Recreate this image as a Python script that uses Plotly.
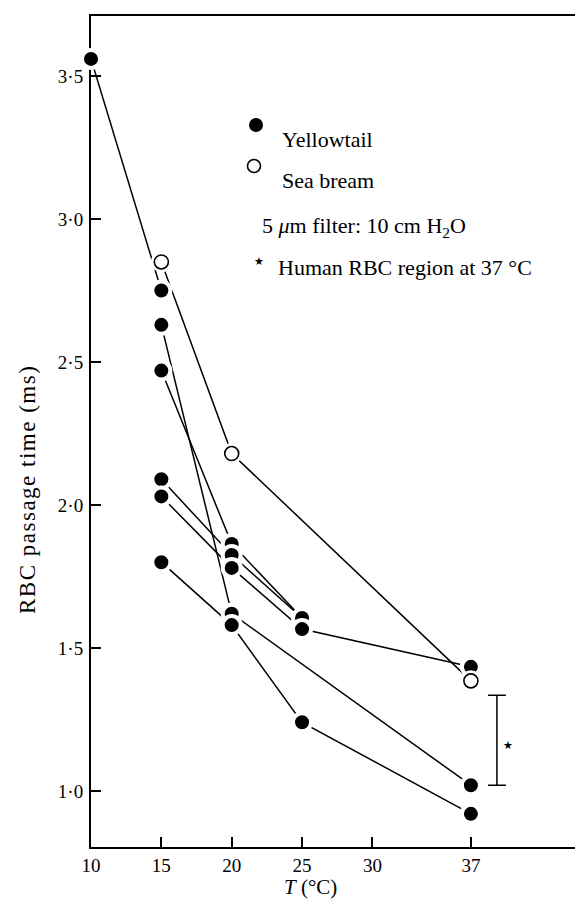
import plotly.graph_objects as go

# ---------------- data ----------------
x_tick_vals = [10, 15, 20, 25, 30, 37]
x_tick_text = ["10", "15", "20", "25", "30", "37"]
y_tick_vals = [1.0, 1.5, 2.0, 2.5, 3.0, 3.5]
y_tick_text = ["1·0", "1·5", "2·0", "2·5", "3·0", "3·5"]

# Yellowtail individuals (temperature, passage time)
yt_a_T = [10, 15]
yt_a_v = [3.56, 2.75]
yt_b_T = [15, 20, 37]
yt_b_v = [2.63, 1.62, 1.02]
yt_c_T = [15, 20, 25, 37]
yt_c_v = [1.80, 1.58, 1.24, 0.92]
yt_d_T = [15, 20, 25]
yt_d_v = [2.47, 1.864, 1.605]
yt_e_T = [15, 20, 25]
yt_e_v = [2.09, 1.825, 1.605]
yt_f_T = [15, 20, 25, 37]
yt_f_v = [2.03, 1.78, 1.566, 1.434]

# Sea bream
sb_T = [15, 20, 37]
sb_v = [2.85, 2.18, 1.385]

# Human RBC region at 37 °C
human_low = 1.02
human_high = 1.335

yellowtail = [(yt_a_T, yt_a_v), (yt_b_T, yt_b_v), (yt_c_T, yt_c_v),
              (yt_d_T, yt_d_v), (yt_e_T, yt_e_v), (yt_f_T, yt_f_v)]

# ---------------- figure ----------------
SERIF = "Liberation Serif, Times New Roman, serif"
fig = go.Figure()

# lines first
for T, v in yellowtail + [(sb_T, sb_v)]:
    fig.add_trace(go.Scatter(x=T, y=v, mode="lines",
                             line=dict(color="black", width=1.5),
                             hoverinfo="skip", showlegend=False, cliponaxis=False))

# filled markers with white halo (gap where lines meet the dots)
all_T = [t for T, _ in yellowtail for t in T]
all_v = [y for _, v in yellowtail for y in v]
fig.add_trace(go.Scatter(x=all_T, y=all_v, mode="markers",
                         marker=dict(size=18, color="black",
                                     line=dict(color="white", width=4)),
                         showlegend=False, cliponaxis=False))
# open markers: halo + ring
fig.add_trace(go.Scatter(x=sb_T, y=sb_v, mode="markers",
                         marker=dict(size=21, color="white", line=dict(width=0)),
                         showlegend=False, cliponaxis=False))
fig.add_trace(go.Scatter(x=sb_T, y=sb_v, mode="markers",
                         marker=dict(size=14, color="white",
                                     line=dict(color="black", width=1.6)),
                         showlegend=False, cliponaxis=False))

# human RBC region bar
bar_x = 38.85
fig.add_trace(go.Scatter(x=[bar_x], y=[(human_low + human_high) / 2], mode="markers",
                         marker=dict(size=1, color="rgba(0,0,0,0)"),
                         error_y=dict(type="data", symmetric=True,
                                      array=[(human_high - human_low) / 2],
                                      width=9, thickness=1.5, color="black"),
                         showlegend=False, hoverinfo="skip"))

L, R, T_, B = 83, 0, 8, 61
W, H = 583, 900
PW, PH = W - L - R, H - T_ - B


def px(xp):
    return (xp - L) / PW


def py(yp):
    return (H - B - yp) / PH


LEG = dict(size=22, family=SERIF, color="black")
annotations = [
    dict(x=bar_x + 0.8, y=(human_low + human_high) / 2 - 0.02, xref="x", yref="y",
         text="★", showarrow=False, font=dict(size=11, color="black",
                                               family="DejaVu Sans")),
    dict(x=px(272), y=py(117), xref="paper", yref="paper", xanchor="left",
         text="Yellowtail", showarrow=False, font=LEG),
    dict(x=px(272), y=py(158), xref="paper", yref="paper", xanchor="left",
         text="Sea bream", showarrow=False, font=LEG),
    dict(x=px(252), y=py(203), xref="paper", yref="paper", xanchor="left",
         text="5 <i>μ</i>m filter: 10 cm H<sub>2</sub>O", showarrow=False, font=LEG),
    dict(x=px(244), y=py(245), xref="paper", yref="paper", xanchor="left",
         text="★", showarrow=False, font=dict(size=11, family="DejaVu Sans", color="black")),
    dict(x=px(268), y=py(245), xref="paper", yref="paper", xanchor="left",
         text="Human RBC region at 37 °C", showarrow=False, font=LEG),
    # axis titles
    dict(x=px(302), y=py(879), xref="paper", yref="paper", xanchor="center", yanchor="middle",
         text="<i>T</i> (°C)", showarrow=False, font=dict(size=21, family=SERIF, color="black")),
    dict(x=px(19), y=py(482), xref="paper", yref="paper", xanchor="center", yanchor="middle",
         text="<span style='letter-spacing:1.5px;fill:#000000'>RBC passage time (ms)</span>",
         textangle=-90, showarrow=False,
         font=dict(size=23, family=SERIF, color="black")),
]

shapes = [
    dict(type="circle", xref="paper", yref="paper", xsizemode="pixel", ysizemode="pixel",
         xanchor=px(248), yanchor=py(117), x0=-7, x1=7, y0=-7, y1=7,
         fillcolor="black", line=dict(color="black", width=0)),
    dict(type="circle", xref="paper", yref="paper", xsizemode="pixel", ysizemode="pixel",
         xanchor=px(246), yanchor=py(158), x0=-6.5, x1=6.5, y0=-6.5, y1=6.5,
         fillcolor="white", line=dict(color="black", width=1.6)),
]

fig.update_layout(
    width=W, height=H,
    margin=dict(l=L, r=R, t=T_, b=B, pad=0, autoexpand=False),
    paper_bgcolor="white", plot_bgcolor="white",
    showlegend=False,
    annotations=annotations, shapes=shapes,
    font=dict(family=SERIF, color="black", size=18),
    xaxis=dict(range=[10, 10 + PW / 14.07], tickvals=x_tick_vals, ticktext=x_tick_text,
               ticks="inside", ticklen=10, tickwidth=1.5, tickcolor="black",
               showline=True, linecolor="black", linewidth=2, mirror=True,
               showgrid=False, zeroline=False, layer="below traces", automargin=False,
               tickfont=dict(size=19, family=SERIF), ticklabelstandoff=0),
    yaxis=dict(range=[0.804, 3.71], tickvals=y_tick_vals, ticktext=y_tick_text,
               ticks="inside", ticklen=10, tickwidth=1.5, tickcolor="black",
               showline=True, linecolor="black", linewidth=2, mirror=False,
               showgrid=False, zeroline=False, layer="below traces", automargin=False,
               tickfont=dict(size=19, family=SERIF), ticklabelstandoff=2),
)

fig.write_html("out.html")
